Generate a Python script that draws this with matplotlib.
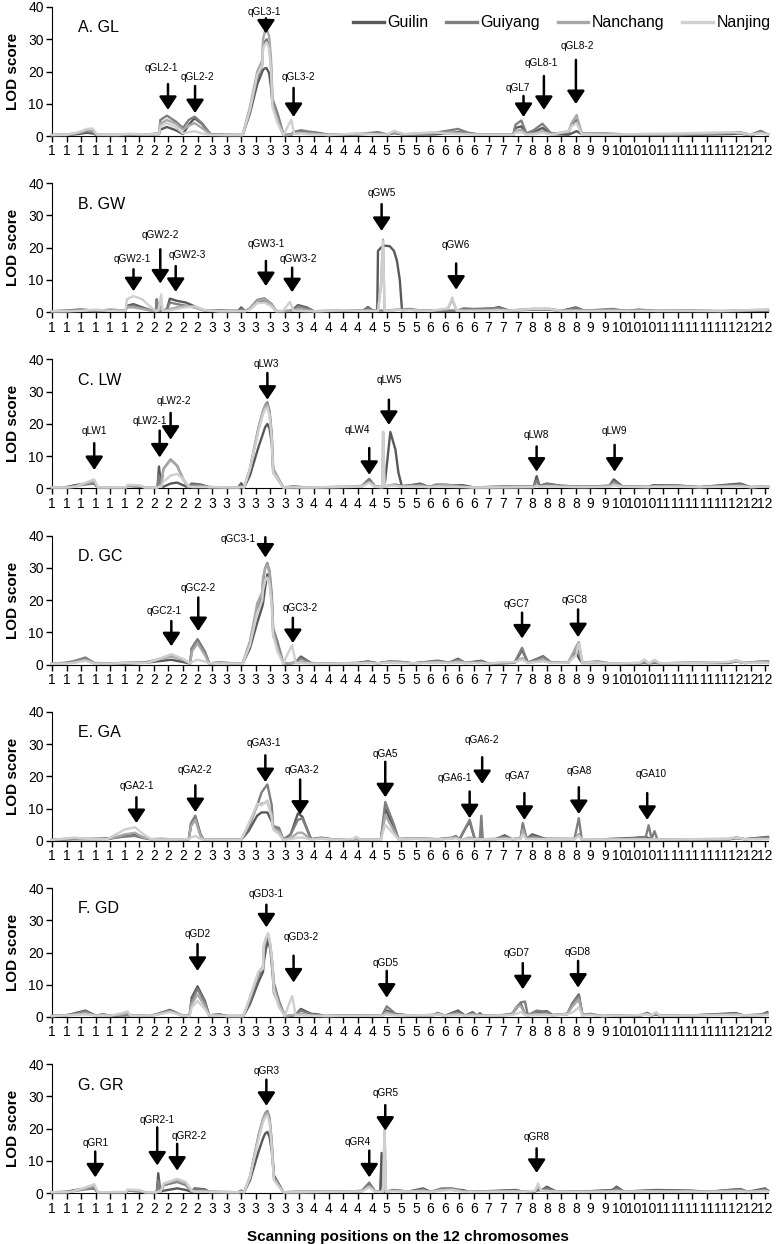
import matplotlib
matplotlib.use("Agg")
import matplotlib.pyplot as plt
from matplotlib import font_manager
from matplotlib.lines import Line2D

# series (environments) and their grey shades
series_names = ["Guilin", "Guiyang", "Nanchang", "Nanjing"]
series_colors = ["#595959", "#7f7f7f", "#a8a8a8", "#cfcfcf"]

# category labels under every x tick (chromosome of each scanning position)
x_tick_labels = ["1", "1", "1", "1", "1", "1", "2", "2", "2", "2", "2",
                 "3", "3", "3", "3", "3", "3", "3", "4", "4", "4", "4", "4",
                 "5", "5", "5", "6", "6", "6", "6", "7", "7", "7",
                 "8", "8", "8", "8", "9", "9", "10", "10", "10",
                 "11", "11", "11", "11", "11", "12", "12", "12"]

# LOD profiles: (position, Guilin, Guiyang, Nanchang, Nanjing)
GL = [(0.0, .3, .3, .3, .3), (1.0, .3, .4, .3, .4), (1.8, .6, .9, 1.0, 1.2),
      (2.4, 1.0, 1.5, 1.8, 2.2), (2.8, .8, 1.2, 1.6, 2.3), (3.1, .3, .3, .4, .4),
      (4.5, .3, .3, .3, .4), (5.2, .3, .4, .5, .7), (6.5, .5, .5, .4, .5),
      (7.35, .6, .8, .6, .7), (7.45, 2.0, 5.0, 3.8, 3.0), (7.9, 2.8, 6.3, 5.0, 4.0),
      (8.5, 1.8, 4.5, 3.8, 2.8), (9.0, .6, 2.5, 2.0, .8), (9.4, 3.5, 5.0, 3.2, 1.2),
      (9.8, 5.5, 6.0, 4.0, 1.5), (10.3, 3.8, 4.0, 2.5, .8), (10.9, .4, .5, .4, .3),
      (12.0, .3, .4, .3, .3), (13.1, .3, .3, .3, .3), (13.6, 7, 8, 9, 8),
      (14.1, 16, 18, 20, 19), (14.45, 20, 22, 23.5, 22), (14.5, 20.5, 28, 30, 27),
      (14.62, 21, 29.3, 32.3, 28.3), (14.75, 21, 30, 33, 29), (14.92, 19.5, 28, 31, 27),
      (15.05, 15, 22, 24, 20), (15.15, 10, 11.5, 10, 9),
      (15.5, 6, 7, 5, 4), (15.9, .3, .5, .3, .3), (16.15, .3, .4, .3, 2.5),
      (16.45, .4, .6, .5, 5.0), (16.65, 1.2, 1.3, .8, .6), (17.1, 1.5, 1.8, 1.0, .8),
      (17.6, 1.2, 1.4, .8, .5), (18.3, .8, 1.0, .5, .4), (19.0, .3, .4, .3, .3),
      (21.0, .5, .6, .7, .8), (22.4, .8, 1.2, .6, .5), (23.0, .4, .5, .4, .4),
      (23.5, .9, 1.1, 1.2, 1.6), (24.2, .4, .5, .5, .6), (26.3, .5, 1.0, .9, 1.2),
      (27.0, .8, 1.5, 1.0, .8), (27.9, 1.2, 2.2, 1.0, .6), (28.6, .8, 1.0, .6, .5),
      (29.5, .4, .4, .4, .4), (31.7, .3, .5, .4, .4), (31.85, 2.5, 3.5, 1.5, 1.0),
      (32.25, 3.0, 4.8, 2.0, 1.2), (32.6, .6, .8, .5, .4), (33.1, 1.2, 1.8, .8, .5),
      (33.7, 2.5, 3.8, 1.5, 1.0), (34.3, .6, .8, .5, .4), (35.5, .4, 1.0, 1.5, 1.5),
      (35.7, .8, 3.5, 4.0, 3.0), (36.05, 1.5, 5.0, 6.5, 4.0), (36.4, .6, .8, .8, .6),
      (38.0, .5, .8, .6, .4), (40.0, .3, .4, .5, .6), (43.0, .3, .3, .5, .8),
      (46.7, .6, .9, 1.0, 1.2), (47.2, .8, 1.2, 1.1, 1.0), (48.0, .3, .4, .4, .5),
      (48.7, 1.0, 1.6, 1.0, .8), (49.2, .5, .5, .5, .5)]

GW = [(0.0, .3, .3, .3, .3), (1.0, .4, .5, .3, .3), (2.0, .6, .9, .5, .4),
      (3.0, .3, .4, .6, .8), (4.0, .6, .8, .5, .4), (5.05, .5, .5, .6, .5),
      (5.15, 2.0, 1.8, 1.5, 4.0), (5.6, 2.5, 2.0, 1.5, 5.0), (6.2, 1.5, 1.2, 1.0, 4.0),
      (6.8, .6, .5, .5, 1.5), (7.15, .4, .4, .3, .4), (7.2, 4.0, 3.8, .5, .4),
      (7.3, .5, .5, .5, .5), (7.5, .4, .4, 2.0, 5.5), (7.6, .4, .4, .5, .4),
      (7.9, 1.0, .8, .6, .5), (8.1, 4.2, 3.0, 1.0, .5), (8.6, 3.5, 2.5, 1.5, 1.0),
      (9.2, 3.0, 2.0, 2.0, 1.5), (9.8, 1.8, 1.5, 1.5, 1.8), (10.5, .5, .5, .5, .6),
      (11.5, .3, .6, .3, .3), (12.8, .4, .4, .3, .3), (13.0, 1.5, 1.0, .4, .3),
      (13.25, .3, .3, .3, .3), (13.6, 1.0, 1.2, 1.0, .8), (14.1, 3.0, 3.8, 3.5, 2.8),
      (14.6, 3.5, 4.3, 4.0, 3.0), (15.1, 2.0, 2.5, 2.3, 1.8), (15.4, .3, .4, .3, .3),
      (15.9, .3, .3, .3, .5), (16.35, .3, .5, .5, 3.2), (16.6, 1.0, .8, .4, .5),
      (16.9, 2.2, 1.8, 1.0, .4), (17.5, 1.5, 1.2, .6, .3), (18.0, .3, .3, .3, .3),
      (20.0, .4, .5, .5, .6), (21.4, .5, .5, .4, .4), (21.7, 1.6, 1.2, .5, .4),
      (22.0, .6, .5, .4, .4), (22.35, .4, .4, .4, .4), (22.4, 19.0, .5, .4, .4),
      (22.6, 20.0, .5, 8.0, 8.0), (22.75, 20.5, .5, 22.5, 22.0), (22.85, 20.6, .5, .5, .5),
      (23.2, 20.5, .6, .5, .5), (23.5, 19.0, .7, .6, .6), (23.7, 16.0, .8, .8, .8),
      (23.9, 10.0, .8, .8, .8),
      (24.05, .6, .8, .6, .5), (24.6, .8, 1.0, .8, .6), (25.2, .5, .6, .5, .5),
      (26.0, .4, .4, .4, .4), (27.2, .4, .4, 1.0, 1.2), (27.5, .4, .5, 4.0, 4.6),
      (27.8, .4, .4, .5, .5), (28.3, .8, 1.2, .5, .4), (29.0, .8, 1.0, .6, .4),
      (30.0, .8, 1.2, .6, .5), (30.7, 1.6, 1.3, .8, .6), (31.4, .5, .5, .5, .5),
      (33.0, .8, 1.0, 1.0, 1.0), (34.2, .8, 1.0, 1.0, 1.0), (35.0, .4, .4, .4, .4),
      (36.0, 1.5, 1.2, .6, .4), (36.6, .4, .5, .4, .4), (38.5, .8, 1.0, .6, .4),
      (39.5, .4, .4, .4, .4), (40.3, .8, .6, .5, .4), (41.5, .4, .4, .4, .4),
      (44.0, .4, .5, .4, .4), (46.0, .3, .3, .4, .4), (49.2, .5, .6, .8, .8)]

LW = [(0.0, .3, .3, .3, .3), (1.0, .4, .4, .3, .3), (1.6, 1.0, .8, .5, .5),
      (2.3, 1.5, 1.2, 1.5, 1.8), (2.9, 1.5, 1.5, 2.3, 2.8), (3.15, .3, .3, .3, .3),
      (5.1, .3, .3, .3, .4), (5.2, .8, .8, 1.0, 1.1), (6.0, .6, .6, .8, 1.0),
      (6.4, .3, .3, .3, .3), (7.25, .3, .3, .3, .3), (7.35, 6.8, 4.0, .5, .5),
      (7.5, .5, .5, .5, .5), (7.65, .5, 6.0, 6.0, 2.0), (8.15, 1.5, 9.0, 8.8, 4.0),
      (8.6, 1.8, 7.0, 7.0, 4.5), (9.0, 1.0, 3.0, 3.0, 3.0), (9.35, .3, .5, .5, .8),
      (9.6, 1.5, 1.2, .5, .4), (10.2, 1.2, 1.0, .6, .4), (10.8, .4, .4, .4, .4),
      (12.8, .3, .3, .3, .3), (13.0, 1.6, .8, .5, .4), (13.2, .3, .3, .3, .3),
      (13.6, 4, 6, 6, 6), (14.2, 13, 19, 19, 18), (14.5, 17, 24, 24, 23),
      (14.65, 19, 25.8, 25.5, 24.5), (14.8, 20, 26.7, 26, 25), (14.95, 18.5, 24, 23.5, 22.5),
      (15.1, 14, 17, 16, 15), (15.2, 5, 6, 5.5, 5),
      (15.9, .3, .3, .3, .3), (16.6, .5, .6, .4, .3), (17.5, .3, .3, .3, .3),
      (20.5, .4, .5, .5, .5), (21.3, .6, .8, .6, .6), (21.8, 2.5, 3.0, 2.0, 1.8),
      (22.2, .5, .6, .5, .5), (22.7, .4, .4, .4, .4), (22.75, .4, .4, 17.5, 17.5),
      (22.85, .6, .5, .5, .5), (23.25, 17.5, 1.0, 1.0, .8), (23.6, 12, 1.2, 1.0, .8),
      (23.8, 5, 1.0, .8, .6), (24.05, .5, .8, .6, .5), (25.3, 1.5, 1.2, .8, .5),
      (25.9, .4, .4, .4, .4), (26.4, 1.0, 1.2, .8, .6), (27.0, .8, 1.2, 1.0, .5),
      (28.2, 1.0, .6, .5, .4), (29.0, .3, .3, .3, .3), (31.0, .5, .6, .4, .3),
      (33.1, .5, .5, .4, .4), (33.3, 3.8, 2.5, 1.0, .8), (33.5, .8, .8, .5, .5),
      (34.0, 1.5, 1.3, .8, .6), (35.0, .8, .8, .5, .5), (36.5, .5, .5, .4, .4),
      (38.3, .8, .8, .6, .5), (38.6, 2.8, 2.2, 1.5, 1.0), (39.2, .6, .6, .5, .5),
      (41.0, .4, .5, .4, .4), (41.3, 1.0, .8, .6, .5), (43.0, .9, .8, .6, .5),
      (44.5, .4, .4, .4, .4), (47.3, 1.5, 1.2, .8, .6), (48.0, .4, .4, .4, .4),
      (49.2, .5, .6, .6, .6)]

GC = [(0.0, .3, .3, .3, .3), (1.0, .5, .6, .4, .3), (1.6, 1.0, 1.2, .8, .6),
      (2.3, 1.8, 2.2, 1.5, 1.2), (2.9, .4, .5, .4, .3), (4.0, .4, .4, .3, .3),
      (5.0, .3, .5, .6, .5), (6.5, .6, .8, .6, .5), (7.2, 1.0, 1.5, 1.5, 1.5),
      (8.2, 1.5, 3.0, 2.5, 3.2), (9.0, .8, 1.5, 1.5, 1.8), (9.5, .3, .4, .3, .4),
      (9.6, 5, 5, 4, .8), (10.0, 7.8, 7.8, 6.5, 1.5), (10.5, 4, 4, 3, 1.0),
      (10.8, .4, .4, .4, .4), (11.5, .6, .6, .5, .4), (13.1, .3, .3, .3, .3),
      (13.6, 5, 7, 7, 6), (14.1, 13, 17, 19, 16), (14.45, 18, 21, 22.5, 20),
      (14.5, 19, 26, 27, 23), (14.65, 24, 30, 30, 26), (14.8, 28, 31.5, 31, 27),
      (14.95, 26, 29, 28, 25), (15.1, 20, 22, 20, 18),
      (15.2, 9, 11.2, 10, 9), (15.5, 6, 7, 5, 4), (15.9, .3, .3, .3, .3),
      (16.1, .3, .3, .3, 2.5), (16.5, .4, .5, .5, 6.0), (16.75, .8, .8, .5, .4),
      (17.1, 2.5, 2.0, 1.0, .5), (17.8, .5, .5, .4, .3), (18.5, .3, .3, .3, .3),
      (21.0, .5, .5, .4, .4), (21.7, 1.0, .8, .6, .5), (22.4, .4, .4, .4, .4),
      (23.2, .9, 1.0, .8, .6), (24.0, .8, .8, .6, .5), (24.8, .4, .4, .4, .4),
      (26.5, 1.2, 1.0, .8, .6), (27.3, .6, .6, .5, .5), (27.9, 1.8, 1.5, 1.0, .6),
      (28.4, .5, .5, .5, .5), (29.5, 1.2, 1.0, .6, .5), (30.0, .3, .3, .3, .3),
      (31.0, .4, .5, .6, .8), (31.8, .6, .8, .7, .8), (32.3, 4.5, 5.2, 2.0, 1.5),
      (32.7, .6, .6, .5, .5), (33.75, 2.6, 2.4, 1.5, 1.0), (34.3, .6, .6, .5, .5),
      (35.5, .6, .8, .8, .6), (36.0, 4.0, 5.0, 5.5, 3.0), (36.2, 2.0, 4.0, 7.0, 6.5),
      (36.45, .5, .6, .6, .6), (37.5, .5, 1.0, .8, .6), (38.5, .3, .3, .3, .3),
      (40.4, .4, .4, .5, .6), (40.7, .5, .6, 1.2, 1.6), (41.0, .4, .4, .4, .4),
      (41.4, .5, .6, 1.0, 1.5), (41.8, .4, .4, .4, .4), (44.0, .5, .6, .6, .5),
      (46.5, .5, .6, .8, .8), (47.0, 1.0, 1.2, 1.3, 1.2), (47.6, .5, .5, .5, .5),
      (48.7, .8, 1.0, .8, .6), (49.2, .6, 1.0, .6, .5)]

GA = [(0.0, .3, .3, .3, .3), (1.5, .5, .6, .8, 1.0), (2.5, .5, .6, .5, .6),
      (3.8, .5, .8, .6, .5), (4.4, 1.0, 1.0, 1.2, 2.0), (5.0, 1.5, 1.3, 2.0, 3.5),
      (5.7, 1.8, 1.5, 2.5, 4.2), (6.3, 1.0, .8, 1.0, 2.0), (6.8, .5, .5, .5, .5),
      (7.5, .6, .5, .4, .4), (8.5, .4, .4, .4, .4), (9.4, .5, .5, .5, .5),
      (9.55, 5, 5.5, 4.5, 1.0), (9.85, 7.3, 7.8, 6.5, 1.5), (10.2, 2, 2, 1.5, .6),
      (10.4, .4, .4, .4, .4), (13.0, .3, .3, .3, .3), (13.5, 3, 4, 5, 5),
      (14.1, 7.8, 11, 11, 11.5), (14.4, 8.8, 15, 11.5, 11), (14.8, 8.8, 17.5, 12, 12.5),
      (15.1, 6, 11, 8, 7), (15.2, 4.5, 4.5, 4, 3.5), (15.6, 3.5, 4, 3, 2),
      (15.9, .3, .3, .3, .3), (16.4, 2.0, 2.0, .8, .5), (16.9, 8.5, 6.5, 2.5, 1.0),
      (17.2, 7.5, 7.0, 2.5, 1.0), (17.8, .5, .5, .4, .4), (18.5, .8, 1.0, .8, .6),
      (19.5, .3, .3, .3, .3), (20.7, .4, .4, .4, .6), (20.9, .6, .5, .6, 1.3),
      (21.2, .4, .4, .4, .4), (22.6, .4, .4, .4, .4), (22.9, 10, 12, 8, 5),
      (23.5, 4, 5, 3, 2), (23.8, .5, .6, .5, .5), (25.0, .6, .8, .8, .6),
      (26.5, .4, .5, .5, .4), (27.5, .8, 1.0, .8, .6), (27.75, 1.2, 1.5, 1.0, .8),
      (28.0, .4, .4, .4, .4), (28.3, 3.0, 3.0, .5, .4), (28.7, 6.0, 6.5, 1.0, .5),
      (29.05, .5, .5, .5, .5), (29.4, .6, .6, .5, .5), (29.5, 1.0, 7.8, .5, .5),
      (29.6, .5, .5, .5, .5), (30.5, .5, .6, .5, .5), (31.1, 1.7, 1.3, .8, .6),
      (31.6, .5, .5, .5, .5), (32.2, .6, .8, .8, .6), (32.35, 5.0, 5.5, 3.5, 2.0),
      (32.6, .6, .8, .6, .5), (33.0, 2.0, 1.5, .8, .5), (33.9, .6, .6, .5, .5),
      (35.9, .5, .6, .5, .5), (36.2, 2.0, 7.0, 2.0, 1.5), (36.4, .5, .5, .5, .5),
      (38.0, .5, .5, .4, .4), (39.5, .8, .6, .5, .4), (40.0, .9, .8, .5, .4),
      (40.8, 1.2, 1.2, .5, .4), (41.0, .8, 4.8, .5, .4), (41.2, .5, .6, .5, .4),
      (41.4, .5, 3.0, .5, .4), (41.6, .4, .4, .4, .4), (46.5, .4, .5, .6, .6),
      (47.0, .8, 1.0, 1.1, 1.0), (47.6, .5, .5, .5, .5), (49.2, 1.2, 1.0, .6, .5)]

GD = [(0.0, .3, .3, .3, .3), (1.0, .5, .6, .5, .5), (1.6, 1.2, 1.0, .8, .6),
      (2.3, 2.0, 1.8, 1.2, .8), (3.0, .4, .4, .4, .4), (3.5, .8, .8, .5, .5),
      (4.0, .4, .4, .4, .4), (4.8, .5, .5, .8, 1.2), (5.2, .6, .6, 1.2, 1.8),
      (5.4, .4, .4, .4, .4), (7.0, .6, .6, .5, .5), (8.1, 2.2, 2.0, 1.8, 1.5),
      (8.9, .6, .5, .6, .5), (9.45, .3, .3, .3, .3), (9.6, 6, 5, 4, 3),
      (10.0, 9.5, 8.7, 7, 5), (10.5, 5, 4.5, 3.5, 2.5), (10.8, .5, .5, .5, .5),
      (11.5, .8, .8, .5, .4), (12.0, .3, .3, .3, .3), (13.15, .3, .3, .3, .3),
      (13.6, 4, 5, 6, 6), (14.2, 11, 13, 14, 14), (14.5, 14, 15, 15.5, 15),
      (14.55, 17, 20, 22, 22), (14.7, 21, 23.5, 24.5, 24.5), (14.85, 24, 25, 25.7, 26),
      (15.0, 21, 22, 22.5, 22.5), (15.15, 14, 16, 16, 16),
      (15.25, 7.5, 10.5, 9, 8), (15.6, 4, 5, 4, 3), (16.0, .3, .3, .3, .3),
      (16.2, .3, .3, .4, 3.0), (16.5, .4, .5, .6, 6.5), (16.75, .8, .8, .6, .5),
      (17.1, 2.5, 2.0, 1.0, .5), (17.8, 1.0, .8, .5, .4), (18.3, .8, .6, .4, .3),
      (18.7, .3, .3, .3, .3), (21.0, .5, .5, .4, .4), (22.5, .4, .4, .4, .4),
      (22.7, .6, .6, .5, .4), (23.0, 2.0, 3.3, 1.5, .8), (23.6, .8, 1.0, .6, .5),
      (24.5, .5, .5, .5, .5), (26.2, .6, .6, .6, .6), (26.5, 1.0, 1.3, 1.0, .8),
      (27.0, .4, .4, .4, .4), (27.9, 2.0, 1.5, 1.0, .6), (28.4, .4, .4, .4, .4),
      (28.9, 1.5, 1.2, .8, .5), (29.2, .4, .4, .4, .4), (29.4, 1.2, 1.0, .6, .4),
      (29.6, .4, .4, .4, .4), (31.0, .6, .6, .5, .5), (31.6, .8, 1.0, .8, .6),
      (31.9, 3.0, 2.5, 3.0, 1.0), (32.2, 4.2, 4.5, 3.5, 1.5), (32.5, 1.0, 4.8, 1.0, .6),
      (32.7, .5, .5, .5, .5), (33.3, 1.5, 2.0, 1.0, .6), (34.0, 1.8, 1.5, .8, .6),
      (34.4, .6, .6, .5, .5), (35.4, .8, 1.0, 1.0, .8), (35.8, 4.5, 4.5, 3.5, 1.5),
      (36.2, 7.0, 6.5, 5.5, 3.0), (36.45, .6, .6, .6, .5), (37.0, .8, 1.0, .8, .6),
      (37.8, .3, .3, .3, .3), (40.5, .5, .6, .6, .6), (40.9, 1.3, 1.2, 1.0, .8),
      (41.2, .5, .5, .5, .5), (41.5, .8, 1.0, 1.3, 1.5), (41.8, .4, .4, .4, .4),
      (44.0, .5, .5, .5, .5), (47.0, 1.2, 1.0, .8, .6), (47.5, .5, .5, .5, .5),
      (48.7, .6, .8, .6, .5), (49.15, 1.5, 1.2, .8, .6)]

GR = [(0.0, .3, .3, .3, .3), (1.0, .4, .4, .3, .3), (1.4, .8, .6, .5, .5),
      (2.3, 1.5, 1.2, 1.5, 1.8), (2.9, 1.5, 1.5, 2.3, 2.8), (3.15, .3, .3, .3, .3),
      (5.1, .3, .3, .3, .4), (5.2, .8, .8, 1.0, 1.1), (6.0, .6, .6, .8, 1.0),
      (6.4, .3, .3, .3, .3), (7.2, .3, .3, .3, .3), (7.3, 6.2, 4.0, .5, .5),
      (7.45, .5, .5, .5, .5), (7.7, .8, 2.5, 3.0, 3.0), (8.6, 1.5, 3.5, 4.0, 4.5),
      (9.2, 1.0, 2.5, 3.0, 3.5), (9.6, .4, .5, .6, .8), (9.8, 1.5, 1.2, .6, .5),
      (10.5, 1.2, 1.0, .6, .5), (10.8, .4, .4, .4, .4), (12.8, .3, .3, .3, .3),
      (13.0, .8, .6, .5, .4), (13.2, .3, .3, .3, .3), (13.6, 4, 5, 5, 5),
      (14.2, 13, 18, 18, 17), (14.5, 17, 23, 23, 22), (14.65, 18.5, 24.8, 24.5, 23.5),
      (14.8, 19, 25.5, 25, 24), (14.95, 17.5, 23.5, 23, 22),
      (15.1, 13, 16, 15, 14), (15.25, 5.5, 5, 4.5, 4), (15.9, .3, .3, .3, .3),
      (16.6, .4, .4, .3, .3), (20.5, .4, .5, .5, .5), (21.3, .6, .8, .6, .6),
      (21.8, 2.8, 3.3, 2.2, 1.8), (22.2, .5, .6, .5, .5), (22.55, .4, .4, .4, .4),
      (22.65, 12.5, .5, .5, .5), (22.75, .5, .5, .5, .5), (22.85, .5, .5, 19.5, 19.5),
      (22.95, .5, .5, .5, .5), (23.5, 1.0, .8, .8, .6), (24.5, .5, .5, .5, .5),
      (25.5, 1.5, 1.2, .8, .5), (26.0, .4, .4, .4, .4), (26.8, 1.2, 1.5, 1.0, .8),
      (27.5, 1.0, 1.5, 1.2, 1.0), (28.2, 1.0, .8, .5, .4), (28.7, .4, .4, .4, .4),
      (31.9, 1.0, .8, .6, .5), (32.4, .4, .4, .4, .4), (33.2, .5, .6, .6, .8),
      (33.4, 1.0, 1.5, 2.5, 3.0), (33.6, .8, .8, .8, .8), (34.0, 2.0, 1.5, .8, .6),
      (34.6, .6, .6, .5, .5), (36.5, .5, .5, .4, .4), (38.5, 1.0, .8, .6, .5),
      (38.8, 2.0, 1.5, .8, .6), (39.3, .5, .5, .5, .5), (41.5, 1.0, .8, .6, .5),
      (44.0, .8, .6, .5, .5), (45.0, .4, .4, .4, .4), (47.3, 1.3, 1.2, .8, .6),
      (47.8, .4, .4, .4, .4), (49.0, 1.5, 1.2, .8, .6), (49.2, .8, .8, .6, .5)]

# QTL arrows: (name, position, tail LOD, tip LOD, label position, label LOD)
GL_qtl = [("qGL2-1", 7.97, 16.1, 8.1, 7.5, 21.1), ("qGL2-2", 9.83, 15.5, 7.1, 10.0, 18.4),
          ("qGL3-1", 14.7, 36.5, 31.8, 14.6, 38.4), ("qGL3-2", 16.6, 14.9, 5.9, 16.9, 18.4),
          ("qGL7", 32.4, 12.4, 5.9, 32.0, 14.8), ("qGL8-1", 33.8, 18.6, 8.1, 33.6, 22.7),
          ("qGL8-2", 36.0, 23.6, 9.9, 36.1, 27.9)]
GW_qtl = [("qGW2-1", 5.6, 13.3, 6.5, 5.5, 16.4), ("qGW2-2", 7.44, 19.5, 8.9, 7.44, 24.0),
          ("qGW2-3", 8.5, 14.3, 6.3, 9.27, 17.6), ("qGW3-1", 14.7, 15.9, 8.1, 14.7, 21.3),
          ("qGW3-2", 16.5, 13.8, 6.2, 16.9, 16.6), ("qGW5", 22.65, 33.5, 25.2, 22.65, 36.9),
          ("qGW6", 27.77, 15.1, 7.0, 27.77, 20.8)]
LW_qtl = [("qLW1", 2.9, 14.0, 5.7, 2.9, 17.9), ("qLW2-1", 7.4, 17.9, 9.6, 6.7, 20.8),
          ("qLW2-2", 8.15, 23.4, 15.1, 8.35, 27.0), ("qLW3", 14.8, 35.8, 27.5, 14.7, 38.6),
          ("qLW4", 21.8, 12.5, 4.2, 21.0, 18.2), ("qLW5", 23.15, 27.5, 19.7, 23.15, 33.7),
          ("qLW8", 33.3, 13.0, 5.2, 33.3, 16.6), ("qLW9", 38.66, 13.5, 5.2, 38.66, 17.9)]
GC_qtl = [("qGC2-1", 8.2, 13.5, 5.7, 7.7, 16.6), ("qGC2-2", 10.05, 20.8, 10.4, 10.05, 23.8),
          ("qGC3-1", 14.66, 39.5, 33.2, 12.8, 39.0), ("qGC3-2", 16.55, 14.5, 6.7, 17.05, 17.7),
          ("qGC7", 32.3, 16.1, 8.1, 31.95, 18.9), ("qGC8", 36.15, 17.1, 8.5, 35.9, 19.9)]
GA_qtl = [("qGA2-1", 5.8, 13.5, 5.5, 5.86, 16.9), ("qGA2-2", 9.85, 17.2, 8.9, 9.8, 21.9),
          ("qGA3-1", 14.66, 26.5, 18.2, 14.56, 30.4), ("qGA3-2", 17.05, 19.0, 8.1, 17.2, 21.8),
          ("qGA5", 22.9, 24.5, 13.5, 22.9, 26.8), ("qGA6-1", 28.7, 15.3, 7.0, 27.7, 19.5),
          ("qGA6-2", 29.56, 25.9, 17.6, 29.56, 31.4), ("qGA7", 32.46, 14.8, 6.5, 31.95, 20.0),
          ("qGA8", 36.2, 16.6, 8.3, 36.2, 21.6), ("qGA10", 40.9, 14.8, 6.5, 41.15, 20.7)]
GD_qtl = [("qGD2", 10.0, 22.6, 14.3, 10.0, 25.8), ("qGD3-1", 14.73, 34.8, 27.8, 14.73, 38.2),
          ("qGD3-2", 16.6, 19.0, 10.7, 17.1, 24.7), ("qGD5", 23.0, 14.3, 6.0, 22.9, 16.6),
          ("qGD7", 32.35, 16.7, 8.6, 31.95, 19.8), ("qGD8", 36.15, 17.4, 9.1, 36.15, 20.1)]
GR_qtl = [("qGR1", 2.97, 12.9, 4.9, 2.97, 15.6), ("qGR2-1", 7.23, 20.4, 8.6, 7.23, 22.8),
          ("qGR2-2", 8.6, 15.3, 7.0, 9.45, 17.8), ("qGR3", 14.73, 35.2, 27.1, 14.73, 37.9),
          ("qGR4", 21.8, 13.2, 4.9, 21.0, 15.8), ("qGR5", 22.9, 27.3, 19.4, 22.9, 31.2),
          ("qGR8", 33.3, 13.9, 6.3, 33.3, 17.3)]

panels = [("A. GL", GL, GL_qtl), ("B. GW", GW, GW_qtl), ("C. LW", LW, LW_qtl),
          ("D. GC", GC, GC_qtl), ("E. GA", GA, GA_qtl), ("F. GD", GD, GD_qtl),
          ("G. GR", GR, GR_qtl)]

plt.rcParams["font.family"] = ["Liberation Sans", "DejaVu Sans"]
installed = {f.name for f in font_manager.fontManager.ttflist}
narrow = "Liberation Sans Narrow" if "Liberation Sans Narrow" in installed else "Liberation Sans"
qtl_size = 8.6 if narrow == "Liberation Sans Narrow" else 7.2

W, H = 777, 1244
fig = plt.figure(figsize=(W / 100, H / 100), dpi=100)

for k, (title, rows, qtls) in enumerate(panels):
    base = 136 + 176.2 * k
    ax = fig.add_axes([52 / W, 1 - base / H, 716 / W, 129 / H])
    xs = [r[0] for r in rows]
    for j in range(4):
        ax.plot(xs, [r[j + 1] for r in rows], color=series_colors[j], lw=1.7,
                solid_joinstyle="round", zorder=3 + j, clip_on=False)
    for name, x, tail, tip, lx, ly in qtls:
        ax.annotate("", xy=(x, tip), xytext=(x, tail),
                    arrowprops=dict(arrowstyle="-|>,head_length=0.42,head_width=0.28",
                                    color="black", lw=1.8, mutation_scale=19,
                                    shrinkA=0, shrinkB=0), zorder=10)
        ax.text(lx, ly, name, ha="center", va="center", fontsize=qtl_size,
                family=[narrow, "DejaVu Sans"], zorder=10)
    ax.text(1.8, 33.5, title, fontsize=11.5, va="center", ha="left")

    ax.set_xlim(0, 49.2)
    ax.set_ylim(0, 40)
    ax.set_yticks([0, 10, 20, 30, 40])
    ax.set_xticks(range(len(x_tick_labels)))
    ax.set_xticklabels(x_tick_labels)
    ax.tick_params(axis="both", direction="out", length=4, width=1, labelsize=10, pad=2)
    for side in ["top", "right"]:
        ax.spines[side].set_visible(False)
    ax.set_ylabel("LOD score", fontsize=11, fontweight="bold")
    ax.yaxis.set_label_coords(-0.045, 0.5)

    if k == 0:
        handles = [Line2D([], [], color=c, lw=2.4) for c in series_colors]
        ax.legend(handles, series_names, loc="center right", bbox_to_anchor=(1.004, 0.876),
                  ncol=4, frameon=False, fontsize=11.5, handlelength=1.9,
                  handletextpad=0.25, columnspacing=1.1, borderpad=0, borderaxespad=0)

fig.text(408 / W, 1 - 1237 / H, "Scanning positions on the 12 chromosomes",
         ha="center", va="center", fontsize=11, fontweight="bold")

fig.savefig("out.png", dpi=100)
